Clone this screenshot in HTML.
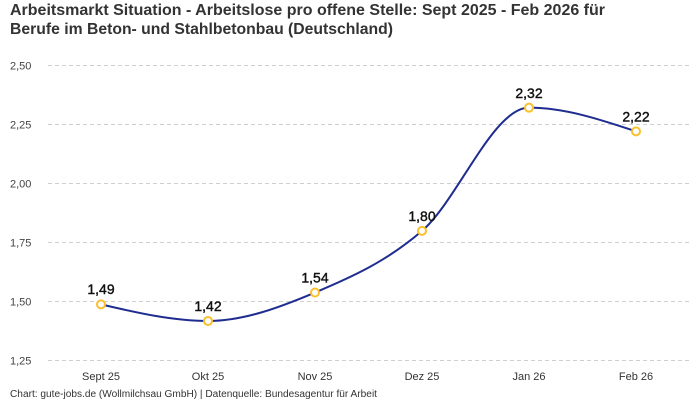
<!DOCTYPE html>
<html><head><meta charset="utf-8"><style>
html,body{margin:0;padding:0;background:#fff;}
svg{display:block;font-family:"Liberation Sans",sans-serif;}
</style></head><body>
<svg width="700" height="400" viewBox="0 0 700 400" xmlns="http://www.w3.org/2000/svg">
<rect width="700" height="400" fill="#fff"/>
<text x="10" y="15" font-size="16" font-weight="bold" fill="#333" textLength="595" lengthAdjust="spacingAndGlyphs">Arbeitsmarkt Situation - Arbeitslose pro offene Stelle: Sept 2025 - Feb 2026 für</text>
<text x="10" y="34" font-size="16" font-weight="bold" fill="#333" textLength="383" lengthAdjust="spacingAndGlyphs">Berufe im Beton- und Stahlbetonbau (Deutschland)</text>
<g stroke="#cfcfcf" stroke-width="1" stroke-dasharray="4,3">
<line x1="48" x2="689" y1="65.5" y2="65.5"/>
<line x1="48" x2="689" y1="124.5" y2="124.5"/>
<line x1="48" x2="689" y1="183.5" y2="183.5"/>
<line x1="48" x2="689" y1="242.5" y2="242.5"/>
<line x1="48" x2="689" y1="301.5" y2="301.5"/>
<line x1="48" x2="689" y1="360.5" y2="360.5"/>
</g>
<g font-size="11" fill="#444">
<text x="10" y="69.5">2,50</text>
<text x="10" y="128.5">2,25</text>
<text x="10" y="187.5">2,00</text>
<text x="10" y="246.5">1,75</text>
<text x="10" y="305.5">1,50</text>
<text x="10" y="364.5">1,25</text>
</g>
<g font-size="11" fill="#333" text-anchor="middle">
<text x="101" y="380">Sept 25</text>
<text x="208" y="380">Okt 25</text>
<text x="315" y="380">Nov 25</text>
<text x="422" y="380">Dez 25</text>
<text x="529" y="380">Jan 26</text>
<text x="636" y="380">Feb 26</text>
</g>
<path d="M101,304.37 C136.67,312.67 172.33,320.96 208,320.96 C243.67,320.96 279.33,307.53 315,292.52 C350.67,277.51 386.33,261.71 422,230.9 C457.67,200.09 493.33,107.66 529,107.66 C564.67,107.66 600.33,119.51 636,131.36" fill="none" stroke="#1e2d8f" stroke-width="2"/>
<g fill="#fff" stroke="#fbc02d" stroke-width="2">
<circle cx="101" cy="304.37" r="4"/>
<circle cx="208" cy="320.96" r="4"/>
<circle cx="315" cy="292.52" r="4"/>
<circle cx="422" cy="230.9" r="4"/>
<circle cx="529" cy="107.66" r="4"/>
<circle cx="636" cy="131.36" r="4"/>
</g>
<g font-size="14" fill="#111" stroke="#111" stroke-width="0.4" text-anchor="middle">
<text x="101" y="294">1,49</text>
<text x="208" y="311">1,42</text>
<text x="315" y="282.5">1,54</text>
<text x="422" y="221">1,80</text>
<text x="529" y="98">2,32</text>
<text x="636" y="121.5">2,22</text>
</g>
<text x="10" y="397" font-size="10" fill="#333" textLength="367" lengthAdjust="spacingAndGlyphs">Chart: gute-jobs.de (Wollmilchsau GmbH) | Datenquelle: Bundesagentur für Arbeit</text>
</svg>
</body></html>
